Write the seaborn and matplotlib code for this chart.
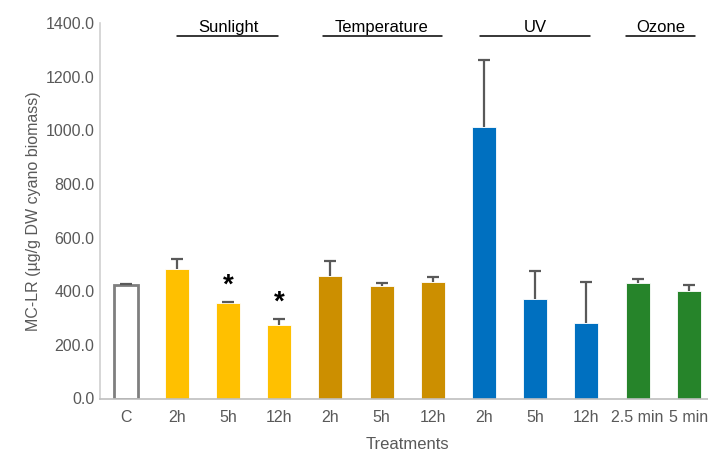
import matplotlib
matplotlib.use("Agg")
import matplotlib.pyplot as plt
import seaborn as sns
import pandas as pd
import numpy as np
from matplotlib.ticker import FormatStrFormatter

# ---- data ----
tick_labels = ["C", "2h", "5h", "12h", "2h", "5h", "12h", "2h", "5h", "12h", "2.5 min", "5 min"]
groups = ["Control", "Sunlight", "Sunlight", "Sunlight", "Temperature", "Temperature", "Temperature",
          "UV", "UV", "UV", "Ozone", "Ozone"]
values = [422, 483, 356, 275, 455, 421, 433, 1014, 370, 283, 430, 399]
errors = [6, 38, 5, 23, 58, 8, 19, 249, 105, 153, 17, 24]
significant = [False, False, True, True, False, False, False, False, False, False, False, False]
group_titles = ["Sunlight", "Temperature", "UV", "Ozone"]

group_colors = {"Control": "#FFFFFF", "Sunlight": "#FFC000", "Temperature": "#CC8F00",
                "UV": "#0070C0", "Ozone": "#26842A"}

keys = [f"k{i}" for i in range(len(values))]
df = pd.DataFrame({"key": keys, "value": values, "group": groups})
palette = {k: group_colors[g] for k, g in zip(keys, groups)}

sns.set_style("white")
plt.rcParams["font.family"] = ["Liberation Sans", "DejaVu Sans"]

fig = plt.figure(figsize=(7.08, 4.53), dpi=100)
ax = fig.add_axes([100 / 708, 54.5 / 453, 614.4 / 708, 375.5 / 453])

sns.barplot(data=df, x="key", y="value", hue="key", palette=palette, order=keys,
            legend=False, width=0.47, ax=ax, errorbar=None, linewidth=0.6, edgecolor="#FFFFFF",
            saturation=1)

# control bar: white with grey outline
patches = sorted(ax.patches, key=lambda p: p.get_x())
patches[0].set_edgecolor("#7F7F7F")
patches[0].set_linewidth(2.0)

xs = [p.get_x() + p.get_width() / 2 for p in patches]
eb = ax.errorbar(xs, values, yerr=[np.zeros(len(errors)), errors], fmt="none",
                 ecolor="#595959", elinewidth=1.6, capsize=4.5, capthick=1.6, zorder=3)
# hide the lower caps (drawn at the bar tops)
eb[1][0].set_visible(False)

for x, v, e, s in zip(xs, values, errors, significant):
    if s:
        ax.text(x, v + e + 60, "*", ha="center", va="center", fontsize=20,
                fontweight="bold", color="#000000")

ax.set_ylim(0, 1400)
ax.set_xlim(-0.5, len(values) - 0.5)
ax.set_yticks(np.arange(0, 1401, 200))
ax.yaxis.set_major_formatter(FormatStrFormatter("%.1f"))
ax.set_xticks(range(len(values)))
ax.set_xticklabels(tick_labels)
ax.tick_params(axis="both", length=0, labelsize=11.5, colors="#595959")
ax.tick_params(axis="x", pad=8)
ax.tick_params(axis="y", pad=4)

for side in ["top", "right"]:
    ax.spines[side].set_visible(False)
ax.spines["left"].set_color("#D0D0D0")
ax.spines["left"].set_linewidth(1.2)
ax.spines["bottom"].set_color("#BFBFBF")
ax.spines["bottom"].set_linewidth(1.2)

ax.set_xlabel("Treatments", fontsize=12, color="#595959", labelpad=9)
ax.set_ylabel("MC-LR (µg/g DW cyano biomass)", fontsize=11.5, color="#595959", labelpad=3)

# group headers with underline
spans = {"Sunlight": (1.0, 2.97), "Temperature": (3.85, 6.18), "UV": (6.92, 9.07), "Ozone": (9.77, 11.13)}
for title in group_titles:
    a, b = spans[title]
    idx = [i for i, g in enumerate(groups) if g == title]
    cx = (xs[idx[0]] + xs[idx[-1]]) / 2
    if title == "Ozone":
        cx = (a + b) / 2
    ax.plot([a, b], [1352, 1352], color="#000000", lw=1.1, clip_on=False)
    ax.text(cx, 1356, title, ha="center", va="bottom", fontsize=12, color="#000000")

fig.savefig("out.png", dpi=100)
